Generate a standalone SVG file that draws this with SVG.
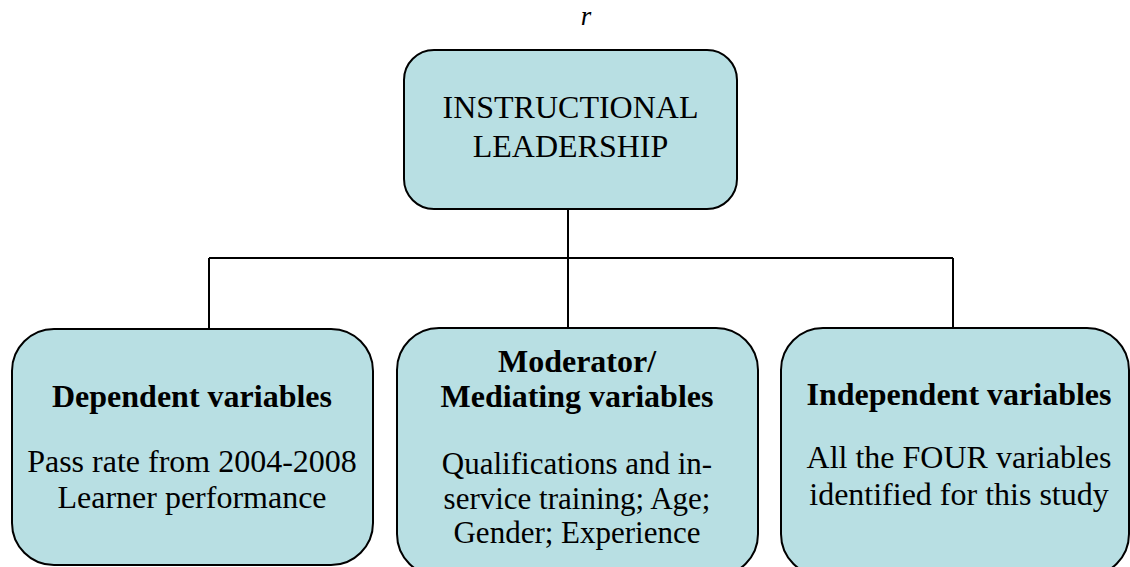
<svg xmlns="http://www.w3.org/2000/svg" width="1130" height="567" viewBox="0 0 1130 567">
<style>
.box{fill:#b8dfe3;stroke:#000;stroke-width:2}
.t{font-family:"Liberation Serif","Times New Roman",serif;font-size:32px;fill:#000;text-anchor:middle}
.b{font-weight:bold}
.s{font-size:31px}
.conn{fill:none;stroke:#000;stroke-width:2}
</style>
<rect width="1130" height="567" fill="#fff"/>
<text x="586" y="25" class="t" style="font-style:italic;font-size:27px">r</text>
<g id="connectors">
<path class="conn" d="M568 209V258M209 258H953M209 258V329M568 258V328M953 258V328"/>
</g>
<g id="top">
<rect class="box" x="404" y="50" width="333" height="159" rx="30"/>
<text class="t" x="570.5" y="118">INSTRUCTIONAL</text>
<text class="t" x="570.5" y="157">LEADERSHIP</text>
</g>
<g id="dependent">
<rect class="box" x="12" y="329" width="361" height="236" rx="42"/>
<text class="t b" x="192" y="407">Dependent variables</text>
<text class="t" x="192" y="472">Pass rate from 2004-2008</text>
<text class="t" x="192" y="508">Learner performance</text>
</g>
<g id="moderator">
<rect class="box" x="397" y="328" width="361" height="248" rx="42"/>
<text class="t b" x="577" y="372">Moderator/</text>
<text class="t b" x="577" y="407">Mediating variables</text>
<text class="t s" x="577" y="474">Qualifications and in-</text>
<text class="t s" x="577" y="508.5">service training; Age;</text>
<text class="t s" x="577" y="543">Gender; Experience</text>
</g>
<g id="independent">
<rect class="box" x="781" y="328" width="348" height="248" rx="42"/>
<text class="t b" x="959" y="405">Independent variables</text>
<text class="t" x="959" y="468">All the FOUR variables</text>
<text class="t" x="959" y="505">identified for this study</text>
</g>
</svg>
